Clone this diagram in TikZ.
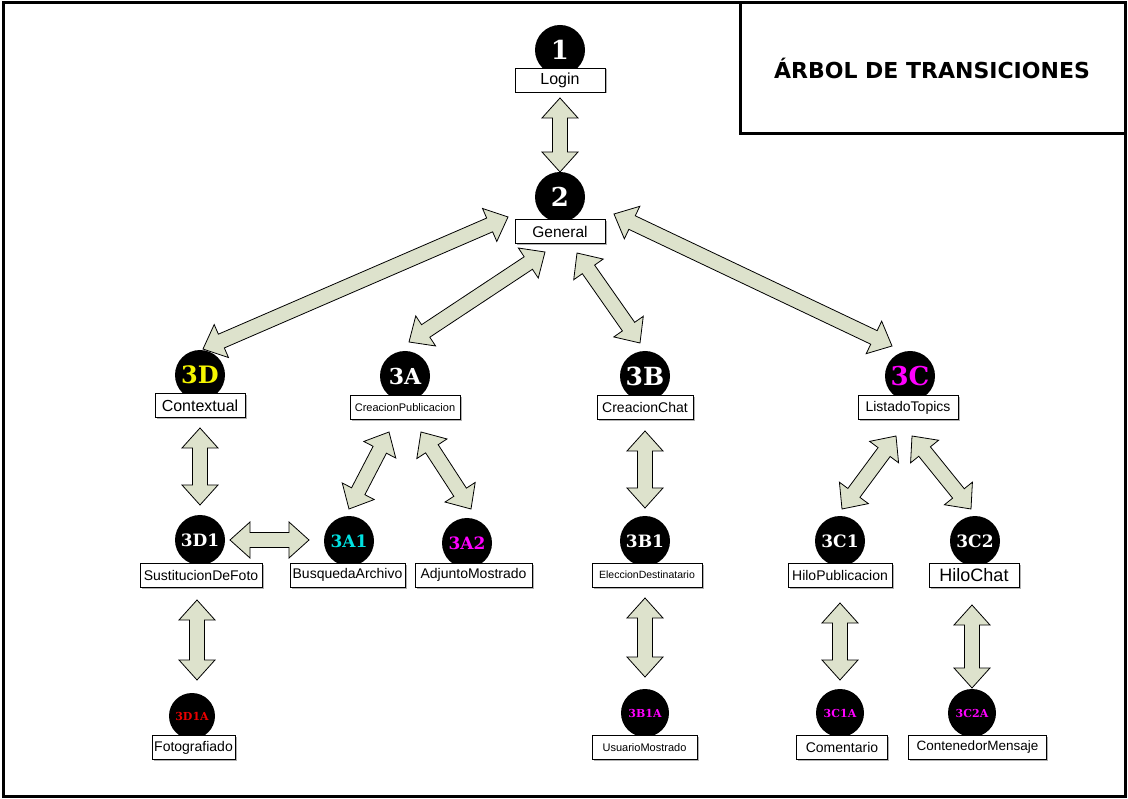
\documentclass[tikz,border=0pt]{standalone}
\usepackage{fontspec}
\setmainfont{Liberation Sans}
\newfontfamily\titlefont{DejaVu Sans}
\newfontfamily\stfont{DejaVu Serif}
\usetikzlibrary{calc,shadows}
\definecolor{arrfill}{RGB}{221,226,204}
\definecolor{stmag}{RGB}{255,0,255}
\definecolor{stcyan}{RGB}{0,225,225}
\definecolor{styel}{RGB}{245,245,0}
\definecolor{stred}{RGB}{235,0,0}
\tikzset{
  state/.style={circle, fill=black, inner sep=0pt, minimum size=50pt, text=white},
  stA/.style={font=\stfont\bfseries\fontsize{#1}{#1}\selectfont},
  lbl/.style={draw=black, fill=white, line width=0.8pt, inner sep=0pt,
    minimum height=24pt, font=\fontsize{14}{16}\selectfont,
    drop shadow={shadow xshift=1.5pt, shadow yshift=-1.5pt, fill=gray!60, opacity=1}},
  blockarrow/.style={draw=black, fill=arrfill, line width=0.8pt, line join=miter},
  frameline/.style={draw=black, line width=3pt},
}
\newcommand\dblarrow[2]{%
  \path ($(#1)!20pt!(#2)$) coordinate (ha) ($(#2)!20pt!(#1)$) coordinate (hb);
  \draw[blockarrow] (#1) -- ($(ha)!18pt!90:(#2)$) -- ($(ha)!7.5pt!90:(#2)$)
    -- ($(hb)!7.5pt!-90:(#1)$) -- ($(hb)!18pt!-90:(#1)$) -- (#2)
    -- ($(hb)!18pt!90:(#1)$) -- ($(hb)!7.5pt!90:(#1)$)
    -- ($(ha)!7.5pt!-90:(#2)$) -- ($(ha)!18pt!-90:(#2)$) -- cycle;}
\begin{document}
\begin{tikzpicture}[x=1pt,y=-1pt]
\useasboundingbox (0,0) rectangle (1128,799);
\draw[frameline] (3,3) rectangle (1125,796);
\draw[frameline] (740,3) rectangle (1125,134);
\node[font=\titlefont\bfseries\fontsize{22}{26}\selectfont] (title) at (932,68) {ÁRBOL DE TRANSICIONES};

% arrow end points
\coordinate (a1s) at (560,98);   \coordinate (a1e) at (560,172);
\coordinate (a2s) at (508,217);  \coordinate (a2e) at (203,349);
\coordinate (a3s) at (545,252);  \coordinate (a3e) at (409,342);
\coordinate (a4s) at (577,253);  \coordinate (a4e) at (640,343);
\coordinate (a5s) at (614,214);  \coordinate (a5e) at (892,346);
\coordinate (a6s) at (200,428);  \coordinate (a6e) at (200,505);
\coordinate (a7s) at (389,432);  \coordinate (a7e) at (349,509);
\coordinate (a8s) at (421,432);  \coordinate (a8e) at (471,509);
\coordinate (a9s) at (645,431);  \coordinate (a9e) at (645,508);
\coordinate (a10s) at (896,436); \coordinate (a10e) at (842,509);
\coordinate (a11s) at (912,436); \coordinate (a11e) at (971,509);
\coordinate (a12s) at (230,540); \coordinate (a12e) at (309,540);
\coordinate (a13s) at (197,600); \coordinate (a13e) at (197,680);
\coordinate (a14s) at (645,598); \coordinate (a14e) at (645,677);
\coordinate (a15s) at (840,603); \coordinate (a15e) at (840,680);
\coordinate (a16s) at (972,605); \coordinate (a16e) at (972,688);
\dblarrow{a1s}{a1e}
\dblarrow{a2s}{a2e}
\dblarrow{a3s}{a3e}
\dblarrow{a4s}{a4e}
\dblarrow{a5s}{a5e}
\dblarrow{a6s}{a6e}
\dblarrow{a7s}{a7e}
\dblarrow{a8s}{a8e}
\dblarrow{a9s}{a9e}
\dblarrow{a10s}{a10e}
\dblarrow{a11s}{a11e}
\dblarrow{a12s}{a12e}
\dblarrow{a13s}{a13e}
\dblarrow{a14s}{a14e}
\dblarrow{a15s}{a15e}
\dblarrow{a16s}{a16e}

% states
\node[state, stA=26] (c1) at (560,50) {1};
\node[state, stA=26] (c2) at (560,197) {2};
\node[state, stA=24, text=styel] (c3D) at (200,375) {3D};
\node[state, stA=22] (c3A) at (405,376) {3A};
\node[state, stA=25] (c3B) at (645,376) {3B};
\node[state, stA=26, text=stmag] (c3C) at (910,376) {3C};
\node[state, stA=17] (c3D1) at (200,540) {3D1};
\node[state, stA=17, text=stcyan] (c3A1) at (349,541) {3A1};
\node[state, stA=17, text=stmag] (c3A2) at (467,543) {3A2};
\node[state, stA=17] (c3B1) at (645,541) {3B1};
\node[state, stA=17] (c3C1) at (840,541) {3C1};
\node[state, stA=17] (c3C2) at (975,541) {3C2};
\node[state, stA=11, text=stred, minimum size=46pt] (c3D1A) at (192,716) {3D1A};
\node[state, stA=11, text=stmag, minimum size=48pt] (c3B1A) at (645,713) {3B1A};
\node[state, stA=11, text=stmag, minimum size=48pt] (c3C1A) at (840,713) {3C1A};
\node[state, stA=11, text=stmag, minimum size=48pt] (c3C2A) at (972,713) {3C2A};

% labels
\node[lbl, minimum width=90pt, font=\fontsize{16}{18}\selectfont] (login) at (560,80) {Login};
\node[lbl, minimum width=90pt, font=\fontsize{15.5}{18}\selectfont] (general) at (560,231.5) {General};
\node[lbl, minimum width=90pt, font=\fontsize{16}{18}\selectfont] (contextual) at (200,405.5) {Contextual};
\node[lbl, minimum width=110pt, font=\fontsize{11}{13}\selectfont] (creacionpub) at (405,407.5) {CreacionPublicacion};
\node[lbl, minimum width=96pt] (creacionchat) at (645,407.5) {CreacionChat};
\node[lbl, minimum width=100pt] (listado) at (908,407.5) {ListadoTopics};
\node[lbl, minimum width=122pt] (sustitucion) at (201,575) {SustitucionDeFoto};
\node[lbl, minimum width=115pt] (busqueda) at (347.5,575) {BusquedaArchivo};
\node[lbl, minimum width=117pt] (adjunto) at (473.5,575) {AdjuntoMostrado};
\node[lbl, minimum width=110pt, font=\fontsize{10.5}{12}\selectfont] (eleccion) at (647,575) {EleccionDestinatario};
\node[lbl, minimum width=104pt] (hilopub) at (840,575) {HiloPublicacion};
\node[lbl, minimum width=90pt, font=\fontsize{18}{20}\selectfont] (hilochat) at (974,575) {HiloChat};
\node[lbl, minimum width=83pt] (fotografiado) at (193.5,747.5) {Fotografiado};
\node[lbl, minimum width=105pt, font=\fontsize{11}{13}\selectfont] (usuario) at (644.5,747.5) {UsuarioMostrado};
\node[lbl, minimum width=91pt] (comentario) at (842,747.5) {Comentario};
\node[lbl, minimum width=138pt, font=\fontsize{13.5}{15}\selectfont] (contenedor) at (977.5,747.5) {ContenedorMensaje};
\end{tikzpicture}
\end{document}
